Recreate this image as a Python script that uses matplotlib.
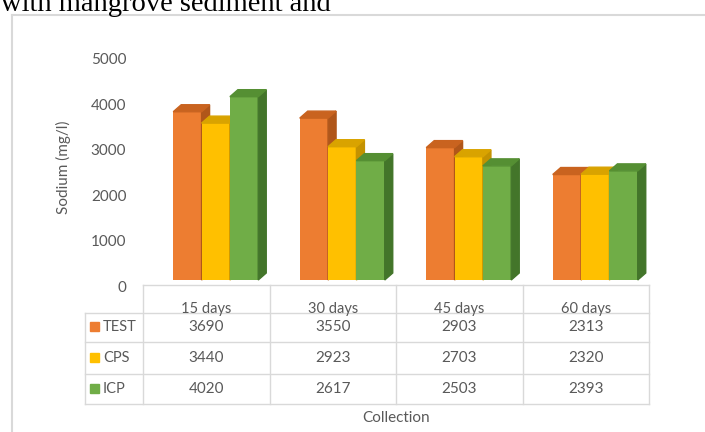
import numpy as np
import matplotlib.pyplot as plt
from matplotlib.patches import Polygon, Rectangle
from matplotlib.lines import Line2D
import matplotlib.transforms as mtransforms

# data
categories = ["15 days", "30 days", "45 days", "60 days"]
series = ["TEST", "CPS", "ICP"]
test = [3690, 3550, 2903, 2313]
cps = [3440, 2923, 2703, 2320]
icp = [4020, 2617, 2503, 2393]
yticks = [0, 1000, 2000, 3000, 4000, 5000]

values = [test, cps, icp]
front = ["#ED7D31", "#FFC000", "#70AD47"]
top_c = ["#C9631F", "#D9A300", "#558F33"]
side_c = ["#B0561A", "#C49200", "#43752A"]
grey = "#595959"
line_c = "#D9D9D9"

plt.rcParams['font.family'] = ['Lato', 'DejaVu Sans']

W, H = 705, 432
fig = plt.figure(figsize=(W / 100, H / 100), dpi=100)


def fx(px):
    return px / W


def fy(py):
    return 1 - py / H


ax = fig.add_axes([fx(143), fy(280), fx(649) - fx(143), fy(52) - fy(280)])
ax.set_xlim(-0.5, 3.5)
ax.set_ylim(0, 5000)
for s in ax.spines.values():
    s.set_visible(False)
ax.set_xticks([])
ax.set_yticks(yticks)
ax.tick_params(axis="y", length=0, pad=12, labelsize=11, labelcolor=grey)
shift = mtransforms.ScaledTranslation(0, -6.5 / 100, fig.dpi_scale_trans)
for lab in ax.get_yticklabels():
    lab.set_transform(lab.get_transform() + shift)

# 3d depth in data units
px_x = (649 - 143) / 4.0
px_y = (280 - 52) / 5000.0
dx = 8 / px_x
dy = 7 / px_y

bw = 0.224
offs = [-bw + 0.075, 0.075, bw + 0.075]
z = 2
x = np.arange(len(categories))
for i in range(len(categories)):
    for j in range(len(series)):
        v = values[j][i]
        x0 = x[i] + offs[j] - bw / 2
        x1 = x0 + bw
        ax.bar(x0, v, bw, align="edge", color=front[j], zorder=z)
        ax.add_patch(Polygon([(x1, 0), (x1 + dx, dy), (x1 + dx, v + dy), (x1, v)],
                             closed=True, color=side_c[j], zorder=z, clip_on=False))
        ax.add_patch(Polygon([(x0, v), (x1, v), (x1 + dx, v + dy), (x0 + dx, v + dy)],
                             closed=True, color=top_c[j], zorder=z, clip_on=False))
        z += 1

# data table below the bars
def hline(y, xa, xb):
    fig.add_artist(Line2D([fx(xa), fx(xb)], [fy(y), fy(y)], color=line_c, lw=1))


def vline(xp, ya, yb):
    fig.add_artist(Line2D([fx(xp), fx(xp)], [fy(ya), fy(yb)], color=line_c, lw=1))


hline(285, 143, 649)
for yy in [313, 342, 374, 404]:
    hline(yy, 85, 649)
vline(85, 313, 404)
for k in range(len(categories) + 1):
    vline(143 + px_x * k, 285, 404)

row_y = [327, 358, 389]
for i, c in enumerate(categories):
    cx = 143 + px_x * (i + 0.5)
    fig.text(fx(cx), fy(309), c, ha="center", va="center", fontsize=10.5, color=grey)
    for j in range(len(series)):
        fig.text(fx(cx), fy(row_y[j]), str(values[j][i]), ha="center", va="center",
                 fontsize=11, color=grey)

for j, s in enumerate(series):
    fig.add_artist(Rectangle((fx(90), fy(row_y[j] + 4)), fx(9), 9 / H,
                             color=front[j], transform=fig.transFigure))
    fig.text(fx(103), fy(row_y[j]), s, ha="left", va="center", fontsize=10.5, color=grey)

fig.text(fx(396), fy(418), "Collection", ha="center", va="center", fontsize=11, color=grey)
fig.text(fx(63), fy(167), "Sodium (mg/l)", ha="center", va="center", rotation=90,
         fontsize=11, color=grey)

# chart frame and caption text cropped at the top, as in the source
fig.add_artist(Line2D([fx(12), fx(12)], [fy(15), fy(432)], color=line_c, lw=1.5))
fig.add_artist(Line2D([fx(12), fx(705)], [fy(15), fy(15)], color=line_c, lw=1.5))
fig.text(fx(1), fy(11), "with mangrove sediment and", ha="left", va="baseline",
         fontsize=20.5, family="Liberation Serif", color="black")

fig.savefig("out.png", dpi=100)
